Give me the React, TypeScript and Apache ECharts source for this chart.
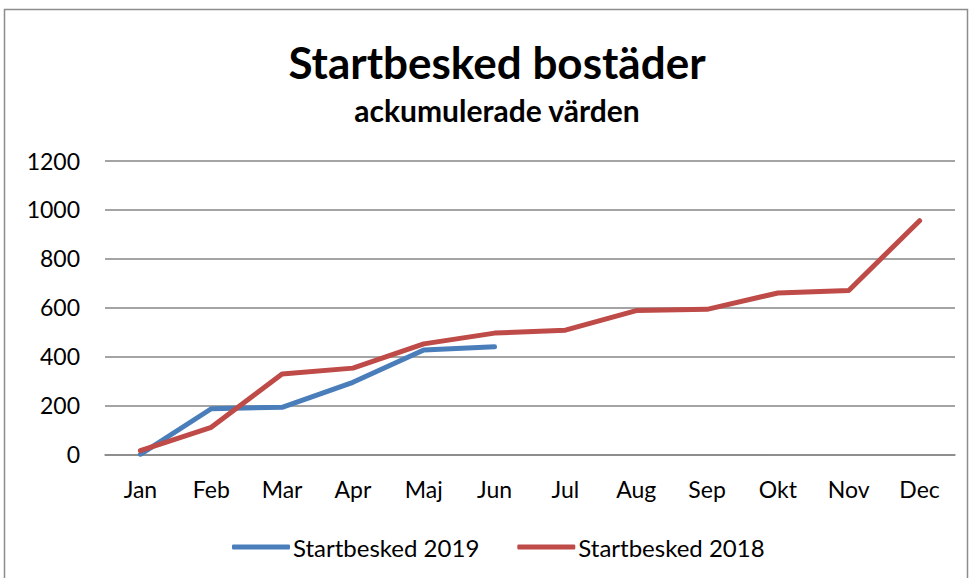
import React, { useEffect, useRef } from "react";
import * as echarts from "echarts";

const months = ["Jan", "Feb", "Mar", "Apr", "Maj", "Jun", "Jul", "Aug", "Sep", "Okt", "Nov", "Dec"];
const startbesked2019 = [0, 186, 192, 294, 426, 439];
const startbesked2018 = [15, 110, 328, 352, 451, 495, 507, 587, 592, 659, 669, 954];
const yTicks = { min: 0, max: 1200, interval: 200 };

const FONT = "Lato, 'Open Sans', sans-serif";

export default function App() {
  const ref = useRef<HTMLDivElement>(null);
  useEffect(() => {
    if (!ref.current) return;
    const chart = echarts.init(ref.current, undefined, { renderer: "svg" });
    chart.setOption({
      animation: false,
      backgroundColor: "#ffffff",
      textStyle: { fontFamily: FONT, color: "#000" },
      graphic: [
        {
          type: "rect",
          shape: { x: 4.5, y: 9.5, width: 963, height: 600 },
          style: { fill: "none", stroke: "#8c8c8c", lineWidth: 1.5 },
          silent: true,
        },
        {
          type: "text",
          x: 497,
          y: 62,
          style: {
            text: "Startbesked bostäder",
            align: "center",
            verticalAlign: "middle",
            font: "bold 44px " + FONT,
            fill: "#000",
          },
        },
        {
          type: "text",
          x: 497,
          y: 110,
          style: {
            text: "ackumulerade värden",
            align: "center",
            verticalAlign: "middle",
            font: "bold 30px " + FONT,
            fill: "#000",
          },
        },
      ],
      legend: {
        top: 530,
        left: 227,
        itemWidth: 58,
        itemHeight: 5,
        itemGap: 38,
        icon: "roundRect",
        textStyle: { fontSize: 24, color: "#000", fontFamily: FONT, padding: [0, 0, 0, -2] },
        data: ["Startbesked 2019", "Startbesked 2018"],
      },
      grid: { left: 105, right: 18, top: 160.5, bottom: 123.7 },
      xAxis: {
        type: "category",
        data: months,
        boundaryGap: true,
        axisLine: { show: true, lineStyle: { color: "#868686", width: 1.5 } },
        axisTick: { show: false },
        axisLabel: { fontSize: 23, color: "#000", margin: 23, fontFamily: FONT },
      },
      yAxis: {
        type: "value",
        min: yTicks.min,
        max: yTicks.max,
        interval: yTicks.interval,
        axisLine: { show: false },
        axisTick: { show: false },
        axisLabel: {
          fontSize: 23,
          color: "#000",
          margin: 25,
          fontFamily: FONT,
          formatter: (v: number) => String(v),
        },
        splitLine: { lineStyle: { color: "#868686", width: 1.5 } },
      },
      series: [
        {
          name: "Startbesked 2019",
          type: "line",
          data: startbesked2019,
          symbol: "none",
          lineStyle: { color: "#4a7ebb", width: 5, cap: "round", join: "round" },
          itemStyle: { color: "#4a7ebb" },
        },
        {
          name: "Startbesked 2018",
          type: "line",
          data: startbesked2018,
          symbol: "none",
          lineStyle: { color: "#be4b48", width: 5, cap: "round", join: "round" },
          itemStyle: { color: "#be4b48" },
        },
      ],
    });
    return () => chart.dispose();
  }, []);
  return (
    <div
      ref={ref}
      style={{ position: "fixed", left: 0, top: 0, width: 973, height: 578 }}
    />
  );
}
